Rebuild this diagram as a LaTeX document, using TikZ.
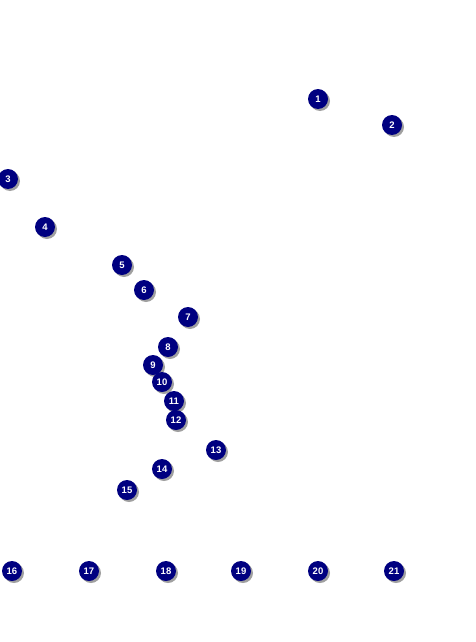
\documentclass[tikz,border=0pt]{standalone}
\usepackage{fontspec}
\setmainfont{Liberation Sans}
\definecolor{navy}{HTML}{000080}
\definecolor{shade}{HTML}{A0A0A0}
\tikzset{
  dot/.style={circle, fill=navy, minimum size=20pt, inner sep=0pt, text=white,
    font=\fontsize{9.5}{10}\selectfont\bfseries},
  dotshadow/.style={circle, fill=shade, minimum size=20pt, inner sep=0pt}
}
\newcommand{\mkdot}[3]{%
  \node[dotshadow] (s#1) at (#2+2,#3+2) {};
  \node[dot] (n#1) at (#2,#3) {#1};}
\begin{document}
\begin{tikzpicture}[x=1pt,y=-1pt]
\useasboundingbox (0,0) rectangle (475,642);
\fill[white] (0,0) rectangle (475,642);
\mkdot{1}{318}{99}
\mkdot{2}{392}{125}
\mkdot{3}{8}{179}
\mkdot{4}{45}{227}
\mkdot{5}{122}{265}
\mkdot{6}{144}{290}
\mkdot{7}{188}{317}
\mkdot{8}{168}{347}
\mkdot{9}{153}{365}
\mkdot{10}{162}{382}
\mkdot{11}{174}{401}
\mkdot{12}{176}{420}
\mkdot{13}{216}{450}
\mkdot{14}{162}{469}
\mkdot{15}{127}{490}
\mkdot{16}{12}{571}
\mkdot{17}{89}{571}
\mkdot{18}{166}{571}
\mkdot{19}{241}{571}
\mkdot{20}{318}{571}
\mkdot{21}{394}{571}
\end{tikzpicture}
\end{document}
